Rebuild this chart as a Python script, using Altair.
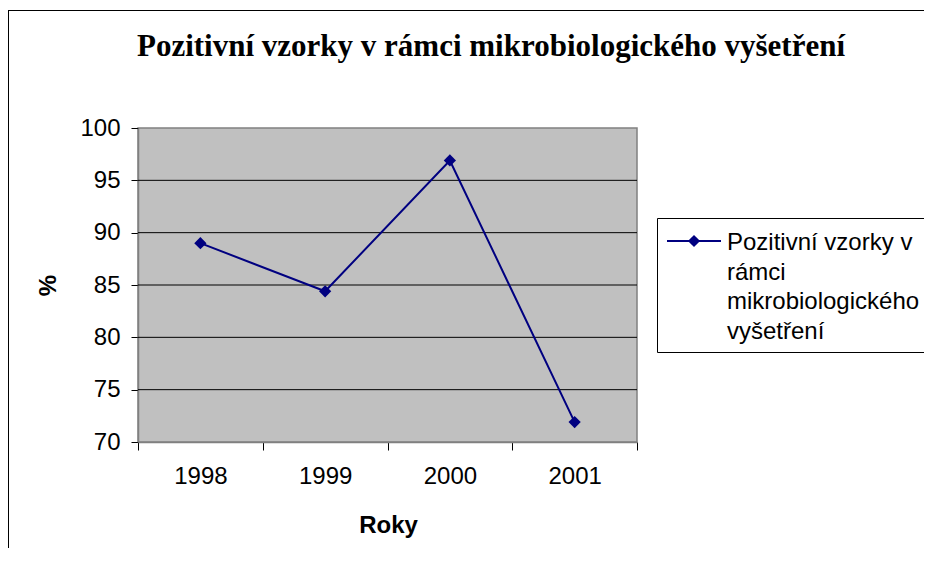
import altair as alt
import pandas as pd

years = ["1998", "1999", "2000", "2001"]
values = [89.0, 84.4, 96.9, 71.9]
y_ticks = [70, 75, 80, 85, 90, 95, 100]
grid_values = [75, 80, 85, 90, 95]
title_text = "Pozitivní vzorky v rámci mikrobiologického vyšetření"
legend_lines = ["Pozitivní vzorky v", "rámci", "mikrobiologického", "vyšetření"]
x_title = "Roky"
y_title = "%"

SANS = "Liberation Sans, Arial, sans-serif"
SERIF = "Liberation Serif, Times New Roman, serif"
NAVY = "#000080"

W, H = 499, 314
PAD_L, PAD_T = 130, 120
TOTAL_W, TOTAL_H = 916, 540

df = pd.DataFrame({"year": years, "value": values})
one = pd.DataFrame({"k": [0]})

x_enc = alt.X(
    "year:N",
    bandPosition=0.5,
    scale=alt.Scale(type="band", paddingInner=0, paddingOuter=0),
    axis=alt.Axis(
        title=x_title, titleFont=SANS, titleFontSize=24, titleFontWeight="bold",
        titleColor="black", titleX=250, titleY=83, titleBaseline="middle",
        labelFont=SANS, labelFontSize=24, labelColor="black", labelAngle=0,
        labelPadding=14, tickBand="extent", tickSize=8, tickColor="black",
        domainColor="#808080", domainWidth=1.5, grid=False,
    ),
)
y_scale = alt.Scale(domain=[70, 100], nice=False, zero=False)
y_enc = alt.Y(
    "value:Q",
    scale=y_scale,
    axis=alt.Axis(
        values=y_ticks, title=y_title, titleFont=SANS, titleFontSize=24,
        titleFontWeight="bold", titleColor="black", titleAngle=270,
        titleX=-90, titleY=157, titleBaseline="middle", titleAlign="center",
        labelFont=SANS, labelFontSize=24, labelColor="black", labelPadding=11,
        tickSize=7, tickColor="black", domainColor="#808080", domainWidth=1.5,
        grid=False,
    ),
)

frame_top = alt.Chart(one).mark_rule(color="black", strokeWidth=1).encode(
    x=alt.value(-130), x2=alt.value(TOTAL_W), y=alt.value(-117.5)
)
frame_left = alt.Chart(one).mark_rule(color="black", strokeWidth=1).encode(
    x=alt.value(-129.5), y=alt.value(-118), y2=alt.value(TOTAL_H)
)

grid = alt.Chart(pd.DataFrame({"g": grid_values})).mark_rule(color="black", strokeWidth=1).encode(
    y=alt.Y("g:Q", scale=y_scale)
)

line = alt.Chart(df).mark_line(color=NAVY, strokeWidth=2).encode(x=x_enc, y=y_enc)
pts = alt.Chart(df).mark_point(shape="diamond", filled=True, color=NAVY, size=150, opacity=1).encode(
    x=alt.X("year:N", bandPosition=0.5), y=alt.Y("value:Q")
)

title = alt.Chart(pd.DataFrame({"t": [title_text]})).mark_text(
    font=SERIF, fontSize=31, fontWeight="bold", color="black", align="center", baseline="alphabetic"
).encode(text="t:N", x=alt.value(353), y=alt.value(-72))

LX0, LY0, LY1 = 519.5, 90.5, 224.5
leg_fill = alt.Chart(one).mark_rect(fill="white", strokeWidth=0).encode(
    x=alt.value(LX0), x2=alt.value(TOTAL_W), y=alt.value(LY0), y2=alt.value(LY1)
)
leg_top = alt.Chart(one).mark_rule(color="black", strokeWidth=1).encode(
    x=alt.value(LX0), x2=alt.value(TOTAL_W), y=alt.value(LY0)
)
leg_bottom = alt.Chart(one).mark_rule(color="black", strokeWidth=1).encode(
    x=alt.value(LX0), x2=alt.value(TOTAL_W), y=alt.value(LY1)
)
leg_left = alt.Chart(one).mark_rule(color="black", strokeWidth=1).encode(
    x=alt.value(LX0), y=alt.value(LY0), y2=alt.value(LY1)
)
leg_line = alt.Chart(one).mark_rule(color=NAVY, strokeWidth=2).encode(
    x=alt.value(529), x2=alt.value(583), y=alt.value(113)
)
leg_pt = alt.Chart(one).mark_point(shape="diamond", filled=True, color=NAVY, size=150, opacity=1).encode(
    x=alt.value(556), y=alt.value(113)
)
leg_df = pd.DataFrame({"line": legend_lines, "i": list(range(len(legend_lines)))})
leg_text = alt.Chart(leg_df).mark_text(
    font=SANS, fontSize=24, color="black", align="left", baseline="middle"
).transform_calculate(py="115 + datum.i * 29.7").encode(
    text="line:N", x=alt.value(589), y=alt.Y("py:Q", scale=None)
)

chart = alt.layer(
    frame_top, frame_left, grid, line, pts, title,
    leg_fill, leg_top, leg_bottom, leg_left, leg_line, leg_pt, leg_text
).properties(
    width=W, height=H,
    padding={"left": PAD_L, "top": PAD_T, "right": TOTAL_W - PAD_L - W, "bottom": TOTAL_H - PAD_T - H},
    autosize=alt.AutoSizeParams(type="none"),
    background="white",
).configure_view(
    fill="#C0C0C0", stroke="#808080", strokeWidth=1.5
)

chart.save("out.html", embed_options={"renderer": "svg", "actions": False})
